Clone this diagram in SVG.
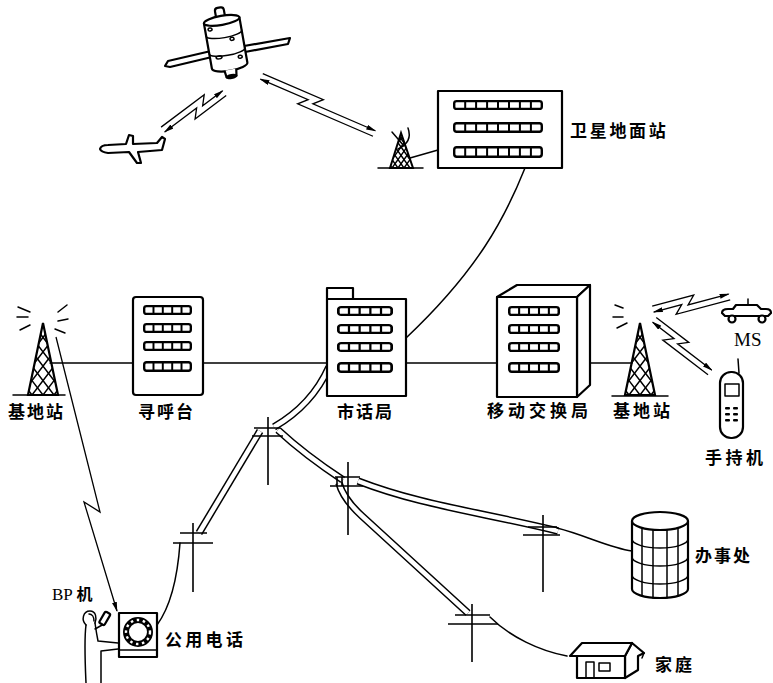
<svg xmlns="http://www.w3.org/2000/svg" width="773" height="683" viewBox="0 0 773 683">
<style>
.ln{fill:none;stroke:#000;stroke-width:1.5;stroke-linecap:round;stroke-linejoin:round}
.bx{fill:#fff;stroke:#000;stroke-width:2.2;stroke-linejoin:round}
.cab{fill:none;stroke:#000;stroke-width:7.5}
.cabw{fill:none;stroke:#fff;stroke-width:4.5}
.pole{fill:none;stroke:#000;stroke-width:1.6}
.sig{fill:none;stroke:#000;stroke-width:1.3;stroke-linejoin:miter}
.lbl{font-family:"Noto Sans CJK SC","Noto Sans CJK JP",sans-serif;font-size:17px;font-weight:bold;fill:#000}
.ser{font-family:"Liberation Serif",serif;fill:#000}
</style>
<defs>
  <marker id="ah" viewBox="0 0 10 5" refX="9" refY="2.5" markerWidth="10" markerHeight="5" markerUnits="userSpaceOnUse" orient="auto-start-reverse">
    <path d="M0,0 L10,2.5 L0,5 Z" fill="#000"/>
  </marker>
  <symbol id="r5" viewBox="0 0 50 11" preserveAspectRatio="none">
    <rect x="1.2" y="1.2" width="47.6" height="8.6" rx="2.5" fill="#fff" stroke="#000" stroke-width="2.4"/>
    <path d="M10.7,1 V10 M20.2,1 V10 M29.8,1 V10 M39.3,1 V10" stroke="#000" stroke-width="2"/>
  </symbol>
  <symbol id="r8" viewBox="0 0 90 11" preserveAspectRatio="none">
    <rect x="1.2" y="1.2" width="87.6" height="8.6" rx="2.5" fill="#fff" stroke="#000" stroke-width="2.4"/>
    <path d="M12.2,1 V10 M23.1,1 V10 M34.1,1 V10 M45,1 V10 M56,1 V10 M66.9,1 V10 M77.9,1 V10" stroke="#000" stroke-width="2"/>
  </symbol>
  <clipPath id="twc"><polygon points="0,0 -15,72 15,72"/></clipPath>
  <g id="tower">
    <g clip-path="url(#twc)" stroke="#000" stroke-width="1.5">
      <path d="M-55,72 L0,0 M-44,72 L11,0 M-33,72 L22,0 M-22,72 L33,0 M-11,72 L44,0 M0,72 L55,0 M11,72 L66,0"/>
      <path d="M55,72 L0,0 M44,72 L-11,0 M33,72 L-22,0 M22,72 L-33,0 M11,72 L-44,0 M0,72 L-55,0 M-11,72 L-66,0"/>
    </g>
    <polygon points="0,0 -15,72 15,72" fill="none" stroke="#000" stroke-width="2.2"/>
  </g>
  <clipPath id="dishc"><polygon points="401,133 390,168 413,168"/></clipPath>
</defs>

<!-- connectors: radio links, wire lines and cables -->
<g id="connectors">
  <!-- satellite <-> aircraft -->
  <g transform="translate(222,90) rotate(143)">
    <path class="sig" d="M0,-7 H39 L31,1 H71" marker-end="url(#ah)"/>
    <path class="sig" d="M0,-1 H25 L17,7 H71" marker-start="url(#ah)"/>
  </g>
  <!-- satellite <-> earth station dish -->
  <g transform="translate(260,80) rotate(23.3)">
    <path class="sig" d="M0,-7 H66 L58,1 H126" marker-end="url(#ah)"/>
    <path class="sig" d="M0,-1 H52 L44,7 H126" marker-start="url(#ah)"/>
  </g>
  <!-- base station <-> vehicle MS -->
  <g transform="translate(654,313) rotate(-15)">
    <path class="sig" d="M0,-7 H43 L35,1 H77" marker-end="url(#ah)"/>
    <path class="sig" d="M0,-1 H29 L21,7 H77" marker-start="url(#ah)"/>
  </g>
  <!-- base station <-> handset -->
  <g transform="translate(652,323) rotate(37.5)">
    <path class="sig" d="M0,-7 H41 L33,1 H76" marker-end="url(#ah)"/>
    <path class="sig" d="M0,-1 H27 L19,7 H76" marker-start="url(#ah)"/>
  </g>
  <!-- paging link to the BP pager -->
  <path class="sig" d="M56,337 L100,512 L84,502 L117,611" marker-end="url(#ah)"/>

  <!-- trunk lines -->
  <path class="ln" d="M50,363 H133 M203,363 H327 M406,363 H497 M590,363 H632"/>
  <path class="ln" d="M525,168 C505,218 478,270 406,338"/>
  <path class="ln" d="M410,158 L438,150"/>

  <!-- overhead cables -->
  <path class="cab" d="M329,367 Q312,405 274,427"/>
  <path class="cab" d="M260,431 L199,533"/>
  <path class="cab" d="M278,430 Q305,455 343,480"/>
  <path class="cab" d="M358,481 C420,505 480,512 558,531"/>
  <path class="cab" d="M339,483 C342,495 350,505 362,516 L468,613"/>
  <path class="cabw" d="M329,367 Q312,405 274,427"/>
  <path class="cabw" d="M260,431 L199,533"/>
  <path class="cabw" d="M278,430 Q305,455 343,480"/>
  <path class="cabw" d="M358,481 C420,505 480,512 558,531"/>
  <path class="cabw" d="M339,483 C342,495 350,505 362,516 L468,613"/>

  <!-- drop wires -->
  <path class="ln" d="M180,543 C177,585 168,610 157,625"/>
  <path class="ln" d="M557,528 C585,535 610,548 632,551"/>
  <path class="ln" d="M490,617 C510,637 540,651 567,656"/>

  <!-- poles -->
  <path class="pole" d="M268,417 V485 M254,428 H280 M252,436 H283"/>
  <path class="pole" d="M193,523 V592 M180,533 H207 M173,543 H213"/>
  <path class="pole" d="M348,462 V535 M335,477 H360 M330,486 H363 M337,477 V486 M342,477 V486"/>
  <path class="pole" d="M543,515 V592 M528,527 H557 M523,535 H560"/>
  <path class="pole" d="M472,604 V662 M455,615 H490 M448,624 H498"/>
</g>

<!-- communication satellite -->
<g id="satellite">
  <path class="bx" stroke-width="1.8" d="M168,61 L211,51 L212,57 L170,67 L165,66 Z"/>
  <path class="bx" stroke-width="1.8" d="M244,46 L290,38 L288,44 L245,52 Z"/>
  <g transform="rotate(-10 226 45)">
    <rect x="221" y="7" width="9" height="12" rx="3" class="bx"/>
    <path class="bx" d="M208,20 V66 A18,5 0 0 0 244,66 V20 Z"/>
    <ellipse cx="226" cy="20" rx="18" ry="4.5" class="bx"/>
    <path class="ln" d="M208,33 A18,4.5 0 0 0 244,33 M208,51 A18,4.5 0 0 0 244,51"/>
    <ellipse cx="213" cy="27" rx="2" ry="1.5" class="ln"/>
    <ellipse cx="233" cy="40" rx="2" ry="1.5" class="ln"/>
    <ellipse cx="217" cy="56" rx="3" ry="1.5" class="ln"/>
    <ellipse cx="238" cy="59" rx="2" ry="1.5" class="ln"/>
    <path class="bx" d="M220,70 L221,77 L231,77 L232,70"/>
    <ellipse cx="226" cy="77" rx="6" ry="2.5" fill="#000"/>
  </g>
</g>

<!-- aircraft -->
<g id="aircraft">
  <path class="bx" stroke-width="1.6" d="M100,149 Q101,145 108,145 L126,144 L129,135 L133,136 L133,144 L157,143 L162,137 L165,139 L162,150 L138,152 L141,163 L137,163 L129,152 L108,153 Q101,152 100,149 Z"/>
</g>

<!-- earth station dish -->
<g id="dish">
  <g clip-path="url(#dishc)" stroke="#000" stroke-width="1.4">
    <path d="M380,168 L405,133 M386,168 L411,133 M392,168 L417,133 M398,168 L423,133 M404,168 L429,133 M374,168 L399,133"/>
    <path d="M392,168 L367,133 M398,168 L373,133 M404,168 L379,133 M410,168 L385,133 M416,168 L391,133 M422,168 L397,133 M428,168 L403,133"/>
  </g>
  <polygon points="401,133 390,168 413,168" fill="none" stroke="#000" stroke-width="2"/>
  <path class="ln" d="M378,168 H423"/>
  <path class="ln" stroke-width="1.8" d="M408,128 Q413,142 398,149 M392,132 L404,146"/>
</g>

<!-- satellite earth station -->
<g id="earth-station">
  <rect x="438" y="91" width="124" height="77" class="bx"/>
  <use href="#r8" x="453" y="100" width="90" height="10"/>
  <use href="#r8" x="453" y="122" width="90" height="11"/>
  <use href="#r8" x="453" y="146" width="90" height="12"/>
  <text class="lbl" x="570" y="137" letter-spacing="2.7">卫星地面站</text>
</g>

<!-- paging base station -->
<g id="base-station-left">
  <use href="#tower" transform="translate(43,323)"/>
  <path class="ln" d="M13,395 H65"/>
  <path class="ln" d="M18,307 L30,312 M17,317 L28,317 M20,330 L30,325 M58,312 L67,305 M58,321 L68,319 M55,329 L65,333"/>
  <text class="lbl" x="8" y="418" letter-spacing="2">基地站</text>
</g>

<!-- paging centre -->
<g id="paging">
  <rect x="133" y="297" width="70" height="98" rx="3" class="bx"/>
  <use href="#r5" x="143" y="305" width="49" height="10"/>
  <use href="#r5" x="143" y="323" width="49" height="10"/>
  <use href="#r5" x="143" y="341" width="49" height="10"/>
  <use href="#r5" x="143" y="361" width="49" height="11"/>
  <text class="lbl" x="138" y="418" letter-spacing="2">寻呼台</text>
</g>

<!-- local exchange -->
<g id="local-exchange">
  <rect x="327" y="288" width="26" height="11" class="bx"/>
  <rect x="327" y="299" width="79" height="97" class="bx"/>
  <use href="#r5" x="337" y="306" width="56" height="10"/>
  <use href="#r5" x="337" y="324" width="56" height="10"/>
  <use href="#r5" x="337" y="342" width="56" height="10"/>
  <use href="#r5" x="337" y="362" width="56" height="11"/>
  <text class="lbl" x="337" y="418" letter-spacing="2">市话局</text>
</g>

<!-- mobile switching centre -->
<g id="msc">
  <polygon points="497,297 517,285 590,285 577,297" class="bx"/>
  <polygon points="577,297 590,285 590,385 577,397" class="bx"/>
  <rect x="497" y="297" width="80" height="100" class="bx"/>
  <use href="#r5" x="508" y="306" width="52" height="10"/>
  <use href="#r5" x="508" y="324" width="52" height="10"/>
  <use href="#r5" x="508" y="342" width="52" height="10"/>
  <use href="#r5" x="508" y="362" width="52" height="11"/>
  <text class="lbl" x="487" y="417" letter-spacing="4">移动交换局</text>
</g>

<!-- mobile base station -->
<g id="base-station-right">
  <use href="#tower" transform="translate(640,323)"/>
  <path class="ln" d="M612,396 H668"/>
  <path class="ln" d="M615,305 L623,308 M613,317 L623,317 M617,328 L627,323"/>
  <text class="lbl" x="613" y="417" letter-spacing="3">基地站</text>
</g>

<!-- vehicle mobile station -->
<g id="ms">
  <path class="bx" stroke-width="1.8" d="M722,313 Q722,309 728,309 L733,309 L736,305 L757,305 L761,309 L766,309 Q771,309 771,313 L768,316 L725,316 Z"/>
  <path class="ln" stroke-width="1.8" d="M748,299 V305"/>
  <circle cx="732" cy="319" r="3.5" class="bx" stroke-width="1.8"/>
  <circle cx="762" cy="319" r="3.5" class="bx" stroke-width="1.8"/>
  <text class="ser" x="734" y="346" style="font-size:19px">MS</text>
</g>

<!-- handset -->
<g id="handset">
  <path class="ln" stroke-width="2.5" d="M738,359 L739,373"/>
  <rect x="720" y="372" width="23" height="66" rx="11" class="bx"/>
  <rect x="725" y="384" width="14" height="12" class="ln" stroke-width="1.6"/>
  <g fill="#000">
    <rect x="725" y="407" width="5" height="2.5" rx="1"/><rect x="733" y="407" width="5" height="2.5" rx="1"/>
    <rect x="725" y="413" width="5" height="2.5" rx="1"/><rect x="733" y="413" width="5" height="2.5" rx="1"/>
    <rect x="725" y="419" width="5" height="2.5" rx="1"/><rect x="733" y="419" width="5" height="2.5" rx="1"/>
  </g>
  <text class="lbl" x="705" y="464" letter-spacing="3.5">手持机</text>
</g>

<!-- office building -->
<g id="office">
  <path class="bx" d="M632,521 V589 A28,9 0 0 0 688,589 V521 Z"/>
  <ellipse cx="660" cy="521" rx="28" ry="9" class="bx"/>
  <path class="ln" stroke-width="1.8" d="M632,539 A28,9 0 0 0 688,539 M632,557 A28,9 0 0 0 688,557 M632,575 A28,9 0 0 0 688,575"/>
  <path class="ln" stroke-width="1.8" d="M642,528 V596 M653,530 V598 M667,530 V598 M678,528 V596"/>
  <text class="lbl" x="695" y="562" letter-spacing="2">办事处</text>
</g>

<!-- home -->
<g id="home">
  <polygon points="625,656 632,643 644,653 638,656 638,670 625,678" class="bx" stroke-width="1.8"/>
  <rect x="577" y="656" width="48" height="22" class="bx" stroke-width="1.8"/>
  <polygon points="570,656 582,643 632,643 625,656" class="bx" stroke-width="1.8"/>
  <path class="ln" stroke-width="1.8" d="M644,653 L642,658"/>
  <path class="ln" stroke-width="1.8" d="M586,678 V662 H594 V678 M599,663 H610 V671 H599 Z"/>
  <text class="lbl" x="655" y="671" letter-spacing="3">家庭</text>
</g>

<!-- public telephone with caller -->
<g id="payphone">
  <rect x="119" y="613" width="38" height="44" class="bx"/>
  <path class="ln" stroke-width="1.8" d="M119,650 H157"/>
  <circle cx="138" cy="632" r="12" fill="none" stroke="#000" stroke-width="6"/>
  <circle cx="138" cy="632" r="12" fill="none" stroke="#fff" stroke-width="2.4" stroke-dasharray="2.5 3.6"/>
  <text class="lbl" x="165" y="646" letter-spacing="3.3">公用电话</text>
</g>
<g id="caller">
  <path class="ln" stroke-width="1.6" d="M86,625 C81,620 83,611 90,611 C96,611 97,618 95,623"/>
  <path class="ln" stroke-width="1.4" d="M89,614 C92,614 94,617 94,621"/>
  <path class="ln" stroke-width="1.6" d="M86,625 C84,640 85,660 86,683"/>
  <path class="ln" stroke-width="1.6" d="M95,623 C96,630 97,636 98,641 L118,643"/>
  <path class="ln" stroke-width="1.6" d="M118,649 L101,651 L101,683"/>
  <path class="ln" stroke-width="1.6" d="M95,629 L104,624"/>
  <rect x="102" y="612" width="6" height="13" rx="1.5" class="bx" stroke-width="1.6" transform="rotate(30 105 618)"/>
  <text class="ser" x="52" y="600" style="font-size:17px">BP <tspan class="lbl" style="font-size:16px">机</tspan></text>
</g>
</svg>
